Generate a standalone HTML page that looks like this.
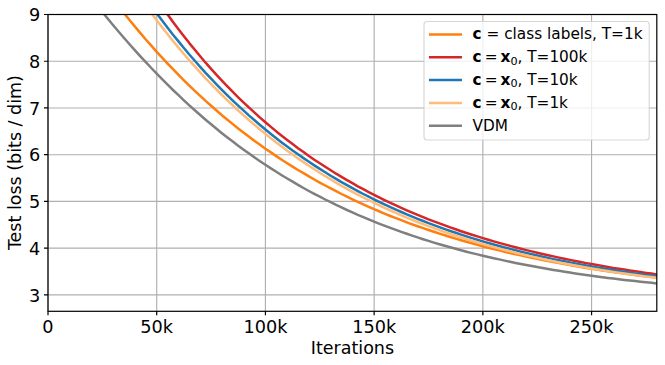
<!DOCTYPE html>
<html><head><meta charset="utf-8"><title>Test loss</title>
<style>html,body{margin:0;padding:0;background:#fff;}svg{display:block;}</style></head>
<body>
<svg width="665" height="365" viewBox="0 0 665 365" font-family="'DejaVu Sans', 'Liberation Sans', sans-serif">
<rect width="665" height="365" fill="#fff"/>
<defs><clipPath id="ax"><rect x="48.0" y="14.5" width="608.8" height="296.8"/></clipPath></defs>
<path d="M48.00 14.5V311.3M156.71 14.5V311.3M265.43 14.5V311.3M374.14 14.5V311.3M482.86 14.5V311.3M591.57 14.5V311.3M48.0 294.90H656.8M48.0 248.17H656.8M48.0 201.43H656.8M48.0 154.70H656.8M48.0 107.97H656.8M48.0 61.23H656.8M48.0 14.50H656.8" stroke="#b0b0b0" stroke-width="1.15" fill="none"/>
<g clip-path="url(#ax)" fill="none" stroke-width="2.5" stroke-linejoin="round">
<polyline points="58.9,-78.2 64.3,-70.0 69.7,-61.9 75.2,-53.8 80.6,-45.8 86.0,-38.0 91.5,-30.2 96.9,-22.7 102.4,-15.2 107.8,-7.9 113.2,-0.7 118.7,6.3 124.1,13.2 129.5,20.0 135.0,26.6 140.4,33.1 145.8,39.5 151.3,45.7 156.7,51.8 162.1,57.7 167.6,63.6 173.0,69.2 178.5,74.8 183.9,80.3 189.3,85.6 194.8,90.8 200.2,95.9 205.6,100.9 211.1,105.7 216.5,110.5 221.9,115.2 227.4,119.7 232.8,124.1 238.2,128.5 243.7,132.7 249.1,136.8 254.6,140.9 260.0,144.8 265.4,148.7 270.9,152.4 276.3,156.1 281.7,159.7 287.2,163.2 292.6,166.6 298.0,170.0 303.5,173.2 308.9,176.4 314.3,179.5 319.8,182.6 325.2,185.5 330.7,188.4 336.1,191.2 341.5,194.0 347.0,196.7 352.4,199.3 357.8,201.9 363.3,204.4 368.7,206.8 374.1,209.2 379.6,211.5 385.0,213.8 390.4,216.0 395.9,218.1 401.3,220.2 406.8,222.3 412.2,224.3 417.6,226.2 423.1,228.1 428.5,230.0 433.9,231.8 439.4,233.6 444.8,235.3 450.2,237.0 455.7,238.6 461.1,240.2 466.5,241.8 472.0,243.3 477.4,244.8 482.9,246.3 488.3,247.7 493.7,249.0 499.2,250.4 504.6,251.7 510.0,253.0 515.5,254.2 520.9,255.4 526.3,256.6 531.8,257.8 537.2,258.9 542.6,260.0 548.1,261.1 553.5,262.1 559.0,263.1 564.4,264.1 569.8,265.1 575.3,266.0 580.7,267.0 586.1,267.9 591.6,268.7 597.0,269.6 602.4,270.4 607.9,271.2 613.3,272.0 618.8,272.8 624.2,273.5 629.6,274.3 635.1,275.0 640.5,275.7 645.9,276.3 651.4,277.0 656.8,277.6 662.2,278.3 667.7,278.9" stroke="#ff7f0e"/>
<polyline points="113.2,-72.9 118.7,-63.0 124.1,-53.4 129.5,-44.1 135.0,-35.0 140.4,-26.2 145.8,-17.6 151.3,-9.3 156.7,-1.1 162.1,6.8 167.6,14.4 173.0,21.9 178.5,29.2 183.9,36.2 189.3,43.1 194.8,49.8 200.2,56.3 205.6,62.7 211.1,68.8 216.5,74.9 221.9,80.7 227.4,86.4 232.8,91.9 238.2,97.3 243.7,102.6 249.1,107.7 254.6,112.7 260.0,117.6 265.4,122.3 270.9,126.9 276.3,131.4 281.7,135.7 287.2,140.0 292.6,144.1 298.0,148.2 303.5,152.1 308.9,155.9 314.3,159.7 319.8,163.3 325.2,166.8 330.7,170.3 336.1,173.7 341.5,176.9 347.0,180.1 352.4,183.2 357.8,186.3 363.3,189.2 368.7,192.1 374.1,194.9 379.6,197.6 385.0,200.3 390.4,202.9 395.9,205.4 401.3,207.9 406.8,210.3 412.2,212.6 417.6,214.9 423.1,217.1 428.5,219.3 433.9,221.4 439.4,223.4 444.8,225.4 450.2,227.4 455.7,229.3 461.1,231.2 466.5,233.0 472.0,234.7 477.4,236.4 482.9,238.1 488.3,239.8 493.7,241.4 499.2,242.9 504.6,244.4 510.0,245.9 515.5,247.3 520.9,248.7 526.3,250.1 531.8,251.4 537.2,252.7 542.6,254.0 548.1,255.2 553.5,256.4 559.0,257.6 564.4,258.8 569.8,259.9 575.3,261.0 580.7,262.0 586.1,263.1 591.6,264.1 597.0,265.0 602.4,266.0 607.9,266.9 613.3,267.9 618.8,268.7 624.2,269.6 629.6,270.5 635.1,271.3 640.5,272.1 645.9,272.9 651.4,273.6 656.8,274.4 662.2,275.1 667.7,275.8" stroke="#d62728"/>
<polyline points="102.4,-70.6 107.8,-61.2 113.2,-52.1 118.7,-43.2 124.1,-34.5 129.5,-26.1 135.0,-17.8 140.4,-9.7 145.8,-1.9 151.3,5.8 156.7,13.3 162.1,20.6 167.6,27.7 173.0,34.7 178.5,41.4 183.9,48.0 189.3,54.5 194.8,60.8 200.2,66.9 205.6,72.9 211.1,78.7 216.5,84.4 221.9,89.9 227.4,95.3 232.8,100.6 238.2,105.7 243.7,110.7 249.1,115.6 254.6,120.3 260.0,125.0 265.4,129.5 270.9,133.9 276.3,138.2 281.7,142.4 287.2,146.5 292.6,150.5 298.0,154.3 303.5,158.1 308.9,161.8 314.3,165.4 319.8,168.9 325.2,172.3 330.7,175.7 336.1,178.9 341.5,182.1 347.0,185.2 352.4,188.2 357.8,191.1 363.3,194.0 368.7,196.7 374.1,199.5 379.6,202.1 385.0,204.7 390.4,207.2 395.9,209.6 401.3,212.0 406.8,214.4 412.2,216.6 417.6,218.8 423.1,221.0 428.5,223.1 433.9,225.1 439.4,227.1 444.8,229.1 450.2,231.0 455.7,232.8 461.1,234.6 466.5,236.4 472.0,238.1 477.4,239.8 482.9,241.4 488.3,243.0 493.7,244.5 499.2,246.0 504.6,247.5 510.0,248.9 515.5,250.3 520.9,251.7 526.3,253.0 531.8,254.3 537.2,255.5 542.6,256.7 548.1,257.9 553.5,259.1 559.0,260.2 564.4,261.3 569.8,262.4 575.3,263.5 580.7,264.5 586.1,265.5 591.6,266.5 597.0,267.4 602.4,268.3 607.9,269.2 613.3,270.1 618.8,270.9 624.2,271.8 629.6,272.6 635.1,273.4 640.5,274.1 645.9,274.9 651.4,275.6 656.8,276.3 662.2,277.0 667.7,277.7" stroke="#1f77b4"/>
<polyline points="91.5,-78.3 96.9,-69.1 102.4,-60.1 107.8,-51.2 113.2,-42.6 118.7,-34.1 124.1,-25.8 129.5,-17.7 135.0,-9.7 140.4,-2.0 145.8,5.6 151.3,13.0 156.7,20.3 162.1,27.3 167.6,34.2 173.0,41.0 178.5,47.6 183.9,54.0 189.3,60.3 194.8,66.4 200.2,72.4 205.6,78.3 211.1,84.0 216.5,89.5 221.9,95.0 227.4,100.3 232.8,105.4 238.2,110.5 243.7,115.4 249.1,120.2 254.6,124.9 260.0,129.5 265.4,133.9 270.9,138.3 276.3,142.5 281.7,146.6 287.2,150.7 292.6,154.6 298.0,158.4 303.5,162.1 308.9,165.8 314.3,169.3 319.8,172.8 325.2,176.2 330.7,179.4 336.1,182.6 341.5,185.8 347.0,188.8 352.4,191.8 357.8,194.7 363.3,197.5 368.7,200.2 374.1,202.9 379.6,205.5 385.0,208.1 390.4,210.5 395.9,212.9 401.3,215.3 406.8,217.6 412.2,219.8 417.6,222.0 423.1,224.1 428.5,226.2 433.9,228.2 439.4,230.1 444.8,232.0 450.2,233.9 455.7,235.7 461.1,237.5 466.5,239.2 472.0,240.8 477.4,242.5 482.9,244.1 488.3,245.6 493.7,247.1 499.2,248.6 504.6,250.0 510.0,251.4 515.5,252.7 520.9,254.1 526.3,255.3 531.8,256.6 537.2,257.8 542.6,259.0 548.1,260.2 553.5,261.3 559.0,262.4 564.4,263.4 569.8,264.5 575.3,265.5 580.7,266.5 586.1,267.4 591.6,268.4 597.0,269.3 602.4,270.2 607.9,271.0 613.3,271.9 618.8,272.7 624.2,273.5 629.6,274.2 635.1,275.0 640.5,275.7 645.9,276.4 651.4,277.1 656.8,277.8 662.2,278.5 667.7,279.1" stroke="#ffbb78"/>
<polyline points="48.0,-56.1 53.4,-50.1 58.9,-43.3 64.3,-36.4 69.7,-29.4 75.2,-22.3 80.6,-15.3 86.0,-8.4 91.5,-1.5 96.9,5.3 102.4,12.1 107.8,18.7 113.2,25.2 118.7,31.7 124.1,38.0 129.5,44.2 135.0,50.3 140.4,56.3 145.8,62.2 151.3,68.0 156.7,73.7 162.1,79.2 167.6,84.7 173.0,90.0 178.5,95.2 183.9,100.3 189.3,105.4 194.8,110.3 200.2,115.0 205.6,119.7 211.1,124.3 216.5,128.8 221.9,133.2 227.4,137.5 232.8,141.6 238.2,145.7 243.7,149.7 249.1,153.6 254.6,157.5 260.0,161.2 265.4,164.8 270.9,168.4 276.3,171.8 281.7,175.2 287.2,178.5 292.6,181.7 298.0,184.9 303.5,188.0 308.9,191.0 314.3,193.9 319.8,196.7 325.2,199.5 330.7,202.2 336.1,204.9 341.5,207.4 347.0,210.0 352.4,212.4 357.8,214.8 363.3,217.1 368.7,219.4 374.1,221.6 379.6,223.8 385.0,225.9 390.4,227.9 395.9,229.9 401.3,231.9 406.8,233.8 412.2,235.6 417.6,237.4 423.1,239.2 428.5,240.9 433.9,242.6 439.4,244.2 444.8,245.8 450.2,247.3 455.7,248.8 461.1,250.2 466.5,251.7 472.0,253.1 477.4,254.4 482.9,255.7 488.3,257.0 493.7,258.2 499.2,259.4 504.6,260.6 510.0,261.8 515.5,262.9 520.9,264.0 526.3,265.0 531.8,266.1 537.2,267.1 542.6,268.0 548.1,269.0 553.5,269.9 559.0,270.8 564.4,271.7 569.8,272.5 575.3,273.4 580.7,274.2 586.1,274.9 591.6,275.7 597.0,276.4 602.4,277.2 607.9,277.9 613.3,278.5 618.8,279.2 624.2,279.9 629.6,280.5 635.1,281.1 640.5,281.7 645.9,282.3 651.4,282.8 656.8,283.4 662.2,283.9 667.7,284.4" stroke="#7f7f7f"/>
</g>
<path d="M48.00 311.3v4M156.71 311.3v4M265.43 311.3v4M374.14 311.3v4M482.86 311.3v4M591.57 311.3v4M48.0 294.90h-4M48.0 248.17h-4M48.0 201.43h-4M48.0 154.70h-4M48.0 107.97h-4M48.0 61.23h-4M48.0 14.50h-4" stroke="#000" stroke-width="1.2" fill="none"/>
<rect x="48.0" y="14.5" width="608.8" height="296.8" fill="none" stroke="#000" stroke-width="1.2"/>
<g font-size="17.7" fill="#000">
<text x="48.00" y="332.6" text-anchor="middle">0</text>
<text x="156.71" y="332.6" text-anchor="middle">50k</text>
<text x="265.43" y="332.6" text-anchor="middle">100k</text>
<text x="374.14" y="332.6" text-anchor="middle">150k</text>
<text x="482.86" y="332.6" text-anchor="middle">200k</text>
<text x="591.57" y="332.6" text-anchor="middle">250k</text>
<text x="40.2" y="301.50" text-anchor="end">3</text>
<text x="40.2" y="254.77" text-anchor="end">4</text>
<text x="40.2" y="208.03" text-anchor="end">5</text>
<text x="40.2" y="161.30" text-anchor="end">6</text>
<text x="40.2" y="114.57" text-anchor="end">7</text>
<text x="40.2" y="67.83" text-anchor="end">8</text>
<text x="40.2" y="21.10" text-anchor="end">9</text>
</g>
<text x="352.40" y="353.6" font-size="17.5" text-anchor="middle">Iterations</text>
<text transform="translate(20.9 162.60) rotate(-90)" font-size="17.5" text-anchor="middle">Test loss (bits / dim)</text>
<rect x="424.0" y="21.5" width="225.20000000000005" height="118.5" rx="3" ry="3" fill="#fff" fill-opacity="0.8" stroke="#ccc" stroke-opacity="0.8" stroke-width="1.1"/>
<path d="M430.2 34.4H460.7" stroke="#ff7f0e" stroke-width="2.5" stroke-linecap="square" fill="none"/>
<text x="472.6" y="39.4" font-size="15.3"><tspan font-weight="bold">c</tspan> = class labels, T=1k</text>
<path d="M430.2 57.3H460.7" stroke="#d62728" stroke-width="2.5" stroke-linecap="square" fill="none"/>
<text x="472.6" y="62.3" font-size="15.3"><tspan font-weight="bold">c</tspan><tspan dx="3">=</tspan><tspan dx="3" font-weight="bold">x</tspan><tspan font-size="11.2" dy="2.3">0</tspan><tspan dy="-2.3">, T=100k</tspan></text>
<path d="M430.2 80.1H460.7" stroke="#1f77b4" stroke-width="2.5" stroke-linecap="square" fill="none"/>
<text x="472.6" y="85.1" font-size="15.3"><tspan font-weight="bold">c</tspan><tspan dx="3">=</tspan><tspan dx="3" font-weight="bold">x</tspan><tspan font-size="11.2" dy="2.3">0</tspan><tspan dy="-2.3">, T=10k</tspan></text>
<path d="M430.2 103.0H460.7" stroke="#ffbb78" stroke-width="2.5" stroke-linecap="square" fill="none"/>
<text x="472.6" y="108.0" font-size="15.3"><tspan font-weight="bold">c</tspan><tspan dx="3">=</tspan><tspan dx="3" font-weight="bold">x</tspan><tspan font-size="11.2" dy="2.3">0</tspan><tspan dy="-2.3">, T=1k</tspan></text>
<path d="M430.2 125.8H460.7" stroke="#7f7f7f" stroke-width="2.5" stroke-linecap="square" fill="none"/>
<text x="472.6" y="130.8" font-size="15.3">VDM</text>
</svg>
</body></html>
